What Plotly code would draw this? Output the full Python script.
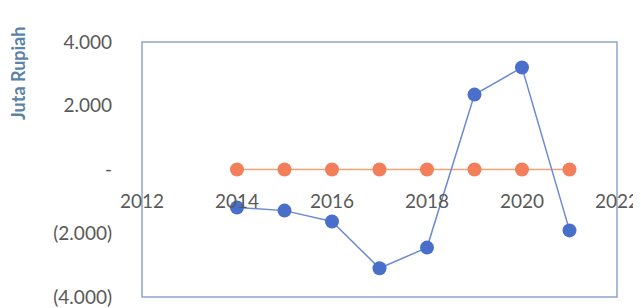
import plotly.graph_objects as go

years = [2014, 2015, 2016, 2017, 2018, 2019, 2020, 2021]
blue_vals = [-1190, -1290, -1630, -3100, -2450, 2350, 3200, -1910]
orange_vals = [0, 0, 0, 0, 0, 0, 0, 0]
x_ticks = [2012, 2014, 2016, 2018, 2020, 2022]
y_ticks = [4000, 2000, 0, -2000, -4000]
y_labels = ["4.000", "2.000", "-", "(2.000)", "(4.000)"]

fig = go.Figure()
fig.add_trace(go.Scatter(
    x=years, y=orange_vals, mode="lines+markers",
    line=dict(color="#F5A27A", width=1.5),
    marker=dict(color="#F37E5A", size=14),
    showlegend=False))
fig.add_trace(go.Scatter(
    x=years, y=blue_vals, mode="lines+markers",
    line=dict(color="#6C8BD6", width=1.5),
    marker=dict(color="#4A6FCB", size=14),
    showlegend=False))

font = "Lato, Open Sans, sans-serif"
fig.update_layout(
    width=633, height=300,
    margin=dict(l=134, r=24, t=34, b=11),
    paper_bgcolor="white", plot_bgcolor="white",
    xaxis=dict(range=[2012, 2022], tickvals=x_ticks, ticktext=[str(v) for v in x_ticks],
               anchor="free", position=0.5, showgrid=False, zeroline=False,
               showline=False, ticks="", ticklabelstandoff=18, automargin=False,
               tickfont=dict(family=font, size=19, color="#595959")),
    yaxis=dict(range=[-4000, 4000], tickvals=y_ticks, ticktext=y_labels,
               showgrid=False, zeroline=False, showline=False, ticks="",
               ticklabelstandoff=29, automargin=False,
               tickfont=dict(family=font, size=19, color="#595959")),
    annotations=[dict(text="<b>Juta Rupiah</b>", textangle=-90, showarrow=False,
                      xref="paper", yref="paper", x=-0.261, y=0.875,
                      xanchor="center", yanchor="middle",
                      font=dict(family=font, size=18, color="#5B82A8"))],
    shapes=[dict(type="rect", xref="paper", yref="paper", x0=0, x1=1, y0=0, y1=1,
                 line=dict(color="#8FA6C8", width=1.5), layer="below")],
)
fig.write_html("out.html")
